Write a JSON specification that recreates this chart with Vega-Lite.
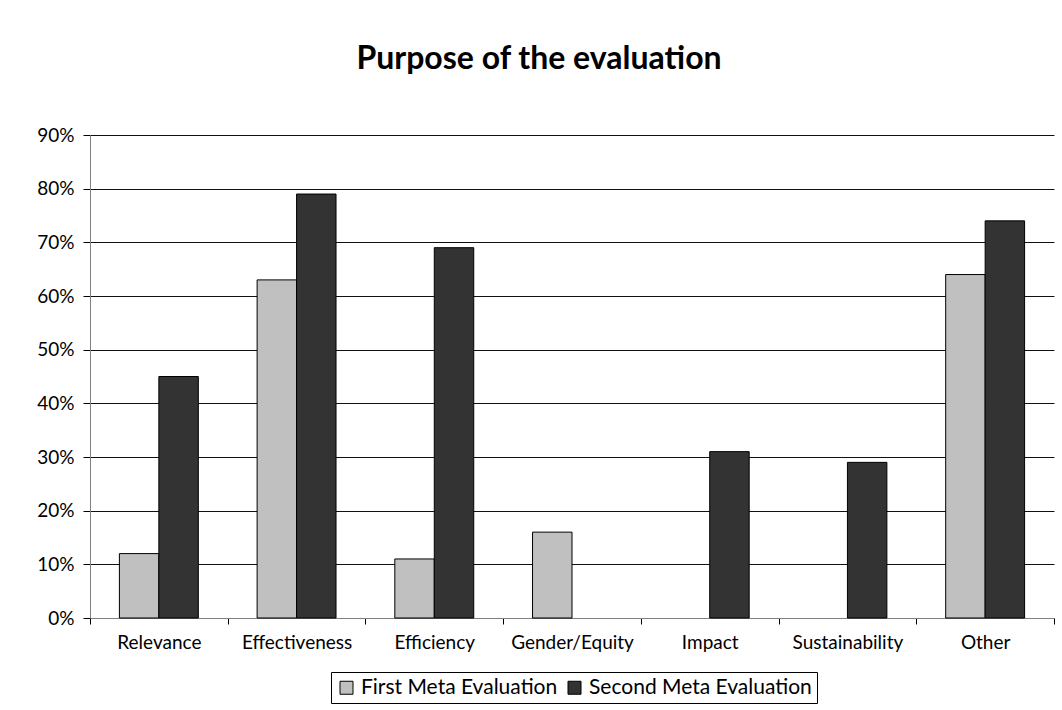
{
  "$schema": "https://vega.github.io/schema/vega-lite/v6.json",
  "width": 964,
  "height": 483,
  "autosize": {"type": "none"},
  "padding": {"left": 90, "top": 135, "right": 8, "bottom": 92},
  "background": "white",
  "title": {
    "text": "Purpose of the evaluation",
    "font": "Lato",
    "fontSize": 32,
    "fontWeight": "bold",
    "color": "black",
    "anchor": "middle",
    "offset": 50,
    "dx": -33
  },
  "data": {
    "values": [
      {"category": "Relevance", "series": "First Meta Evaluation", "value": 0.12},
      {"category": "Relevance", "series": "Second Meta Evaluation", "value": 0.45},
      {"category": "Effectiveness", "series": "First Meta Evaluation", "value": 0.63},
      {"category": "Effectiveness", "series": "Second Meta Evaluation", "value": 0.79},
      {"category": "Efficiency", "series": "First Meta Evaluation", "value": 0.11},
      {"category": "Efficiency", "series": "Second Meta Evaluation", "value": 0.69},
      {"category": "Gender/Equity", "series": "First Meta Evaluation", "value": 0.16},
      {"category": "Impact", "series": "Second Meta Evaluation", "value": 0.31},
      {"category": "Sustainability", "series": "Second Meta Evaluation", "value": 0.29},
      {"category": "Other", "series": "First Meta Evaluation", "value": 0.64},
      {"category": "Other", "series": "Second Meta Evaluation", "value": 0.74}
    ]
  },
  "mark": {"type": "bar", "stroke": "black", "strokeWidth": 1},
  "encoding": {
    "x": {
      "field": "category",
      "type": "nominal",
      "sort": ["Relevance", "Effectiveness", "Efficiency", "Gender/Equity", "Impact", "Sustainability", "Other"],
      "scale": {"paddingInner": 0, "paddingOuter": 0},
      "axis": {
        "title": null,
        "labelAngle": 0,
        "tickBand": "extent",
        "tickSize": 6,
        "tickColor": "black",
        "domainColor": "#808080",
        "labelFont": "Lato",
        "labelFontSize": 19,
        "labelColor": "black",
        "labelPadding": 9,
        "grid": false
      }
    },
    "xOffset": {
      "field": "series",
      "type": "nominal",
      "sort": ["First Meta Evaluation", "Second Meta Evaluation"],
      "scale": {"paddingInner": 0, "paddingOuter": 0.745}
    },
    "y": {
      "field": "value",
      "type": "quantitative",
      "scale": {"domain": [0, 0.9], "nice": false},
      "axis": {
        "title": null,
        "format": ".0%",
        "values": [0, 0.1, 0.2, 0.3, 0.4, 0.5, 0.6, 0.7, 0.8, 0.9],
        "tickSize": 7,
        "tickColor": "black",
        "domainColor": "#808080",
        "gridColor": "#111",
        "gridWidth": 1,
        "gridOpacity": 1,
        "labelFont": "Lato",
        "labelFontSize": 19,
        "labelColor": "black",
        "labelPadding": 9
      }
    },
    "color": {
      "field": "series",
      "type": "nominal",
      "scale": {"domain": ["First Meta Evaluation", "Second Meta Evaluation"], "range": ["#C0C0C0", "#333333"]},
      "legend": {
        "title": null,
        "orient": "none",
        "legendX": 241,
        "legendY": 537,
        "direction": "horizontal",
        "strokeColor": "black",
        "padding": 5,
        "symbolType": "square",
        "symbolSize": 169,
        "symbolStrokeColor": "black",
        "symbolStrokeWidth": 1,
        "symbolOpacity": 1,
        "labelFont": "Lato",
        "labelFontSize": 21,
        "labelColor": "black",
        "labelOffset": 4,
        "columnPadding": 6,
        "labelLimit": 400
      }
    }
  },
  "config": {
    "view": {"stroke": null},
    "axis": {"domainWidth": 1, "tickWidth": 1}
  }
}
